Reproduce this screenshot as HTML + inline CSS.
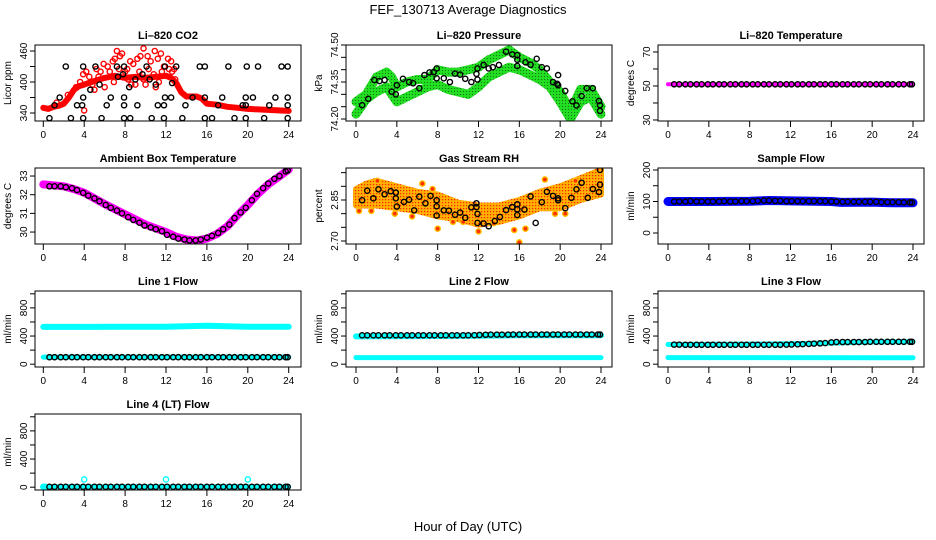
<!DOCTYPE html>
<html><head><meta charset="utf-8"><style>
body{margin:0;background:#fff}
svg{display:block;font-family:"Liberation Sans",sans-serif}
</style></head><body>
<svg id="c" width="936" height="540" xmlns="http://www.w3.org/2000/svg">
<text x="468" y="14" text-anchor="middle" font-size="13">FEF_130713  Average Diagnostics</text>
<text x="468" y="531" text-anchor="middle" font-size="13">Hour of Day (UTC)</text>
</svg>
<script>
// shared sample hours of black (average) points
const H=[0.6,1.1,1.7,2.2,2.8,3.3,3.9,4.4,5.0,5.5,6.1,6.6,7.2,7.7,8.3,8.8,9.4,9.9,10.5,11.0,11.6,12.1,12.7,13.2,13.8,14.3,14.9,15.4,16.0,16.5,17.1,17.6,18.2,18.7,19.3,19.8,20.4,20.9,21.5,22.0,22.6,23.1,23.7,23.9];
const xTicks=[0,4,8,12,16,20,24];
// CO2
const co2RedBand=[[0,350],[0.5,348],[1,352],[1.5,354],[2,358],[2.5,370],[3,385],[3.5,392],[4,395],[5,402],[6,408],[7,412],[8,408],[9,410],[10,408],[11,410],[12,412],[12.5,408],[13,398],[13.5,380],[14,372],[15,372],[15.5,368],[16,358],[17,356],[18,352],[19,350],[20,348],[21,347],[22,346],[23,345],[24,344]];
const co2RedPts=[[3.6,400],[3.9,415],[4.2,420],[4.5,410],[5.2,425],[5.6,420],[5.9,435],[6.3,430],[6.8,440],[7.0,445],[7.2,460],[7.5,450],[7.7,455],[8.2,425],[8.5,440],[8.8,435],[9.2,445],[9.5,450],[9.8,465],[10.2,450],[10.5,440],[10.9,460],[11.2,445],[11.5,455],[11.8,430],[12.2,445],[12.5,440],[12.8,425],[6.0,390],[9.0,395],[10.0,395],[11.0,390],[12.6,420],[4.0,345],[1.3,360],
[3.2,390],[4.8,395],[5.4,410],[6.5,420],[7.4,425],[8.0,420],[8.6,395],[9.4,420],[10.3,425],[10.8,415],[11.6,420],[12.3,425],[6.9,400],[8.3,405],[9.8,405],[11.3,400],[12.9,405],[2.4,375],[5.0,385]];
const co2BlackPts=[[0.6,330],[2.7,330],[3.9,330],[5.7,330],[7.9,330],[8.5,330],[10.6,330],[11.8,330],[13.6,330],[15.8,330],[16.5,330],[18.7,330],[19.8,330],[21.6,330],[23.9,330],
[1.1,355],[3.3,355],[3.8,355],[6.2,355],[7.9,355],[9.2,355],[11.2,355],[11.8,355],[13.9,355],[17.1,355],[19.5,355],[19.8,355],[22.1,355],[23.9,355],
[1.6,370],[3.9,370],[6.6,370],[7.9,370],[11.9,370],[12.5,370],[14.6,370],[15.8,370],[17.5,370],[19.8,370],[20.5,370],[22.7,370],[23.9,370],
[2.2,430],[3.9,430],[5.1,430],[7.2,430],[7.9,430],[10.1,430],[11.9,430],[13,430],[15.3,430],[15.8,430],[18.1,430],[19.9,430],[21,430],[23.3,430],[23.9,430],
[4.6,385],[5.5,395],[7.3,410],[7.8,415],[8.4,390],[9,405],[9.7,415],[10.4,405],[11,395],[12.6,398]];
// Pressure
const presUpper=[[0,74.27],[1,74.30],[2,74.37],[3,74.39],[3.5,74.37],[4,74.33],[5,74.35],[6,74.36],[7,74.36],[8,74.40],[9,74.39],[10,74.39],[11,74.40],[12,74.41],[13,74.44],[14,74.46],[15,74.48],[16,74.45],[17,74.43],[18,74.40],[19,74.35],[20,74.31],[21,74.23],[22,74.32],[23,74.32],[24,74.25]];
const presLower=[[0,74.22],[1,74.28],[2,74.31],[3,74.33],[4,74.27],[5,74.29],[6,74.31],[7,74.33],[8,74.34],[9,74.32],[10,74.31],[11,74.30],[12,74.33],[13,74.37],[14,74.39],[15,74.41],[16,74.40],[17,74.38],[18,74.36],[19,74.33],[20,74.27],[21,74.20],[22,74.27],[23,74.29],[24,74.22]];
const presBlack=[[0.6,74.256],[1.2,74.282],[1.8,74.358],[2.3,74.354],[2.8,74.358],[3.5,74.311],[3.9,74.30],[4.0,74.337],[4.6,74.363],[5.2,74.35],[5.6,74.345],[6.2,74.325],[6.7,74.378],[7.2,74.389],[7.6,74.39],[7.9,74.405],[7.9,74.365],[8.6,74.365],[9.2,74.35],[9.7,74.384],[10.2,74.38],[10.7,74.363],[11.3,74.35],[11.8,74.383],[11.9,74.405],[11.9,74.36],[12.5,74.419],[13,74.405],[13.4,74.41],[14,74.419],[14.7,74.473],[15.3,74.462],[15.8,74.459],[15.8,74.415],[15.8,74.44],[16.6,74.43],[17.1,74.42],[17.7,74.444],[18.2,74.41],[18.7,74.405],[19.3,74.35],[19.7,74.343],[19.8,74.378],[19.8,74.337],[20.5,74.314],[21.2,74.272],[21.6,74.255],[22.1,74.293],[22.6,74.325],[23.2,74.325],[23.8,74.273],[23.9,74.233],[23.9,74.256]];
// Li-820 temperature
const liTempMag=[[0,51],[24,51]];
const liTempBlack=[51,51,51,51,51,51,51,51,51,51,51,51,51,51,51,51,51,51,51,51,51,51,51,51,51,51,51,51,51,51,51,51,51,51,51,51,51,51,51,51,51,51,51,51];
// Ambient box temperature
const ambBlack=[32.45,32.45,32.45,32.4,32.35,32.25,32.1,31.95,31.8,31.65,31.45,31.3,31.15,31.0,30.8,30.65,30.5,30.35,30.25,30.15,30.05,29.85,29.75,29.65,29.6,29.55,29.55,29.6,29.7,29.8,29.95,30.15,30.4,30.75,31.05,31.3,31.7,32.05,32.35,32.6,32.85,33.0,33.25,33.3];
const ambMag=[[0,32.55],[1,32.5],[2,32.45],[3,32.3],[4,32.1],[6,31.5],[8,30.95],[10,30.4],[12,30.0],[13,29.75],[14,29.6],[15,29.55],[16,29.65],[17,29.9],[18,30.3],[19,30.9],[20,31.45],[21,32.05],[22,32.55],[23,32.95],[24,33.35]];
// Gas stream RH
const rhUpper=[[0,2.89],[1,2.91],[2,2.92],[4,2.90],[6,2.88],[8,2.87],[10,2.84],[12,2.83],[14,2.83],[16,2.85],[18,2.88],[20,2.90],[22,2.93],[24,2.96]];
const rhLower=[[0,2.83],[2,2.83],[4,2.82],[6,2.81],[8,2.79],[10,2.78],[12,2.76],[14,2.77],[16,2.79],[18,2.82],[20,2.82],[22,2.85],[24,2.87]];
const rhOutliers=[[0.3,2.81],[1.5,2.81],[2.1,2.92],[3.8,2.80],[5.5,2.79],[6.5,2.91],[7.5,2.89],[8.0,2.745],[9.5,2.77],[10.5,2.77],[12.0,2.735],[13.5,2.765],[15.5,2.74],[16.0,2.695],[16.6,2.745],[18.5,2.925],[19.5,2.80],[20.5,2.80],[21.5,2.92]];
const rhBlack=[[0.6,2.849],[1.1,2.884],[1.7,2.856],[2.2,2.889],[2.8,2.871],[3.4,2.882],[3.9,2.877],[3.9,2.856],[4,2.826],[4.7,2.843],[5.2,2.851],[5.7,2.812],[6.2,2.862],[6.8,2.838],[7.3,2.865],[7.9,2.849],[7.9,2.827],[7.9,2.793],[8.6,2.812],[9.1,2.811],[9.7,2.796],[10.2,2.804],[10.7,2.785],[11.3,2.823],[11.8,2.838],[11.8,2.824],[11.9,2.799],[11.9,2.766],[12.5,2.764],[13,2.754],[13.6,2.773],[14.1,2.788],[14.7,2.813],[15.3,2.824],[15.8,2.834],[15.8,2.816],[15.8,2.795],[16.5,2.815],[17.1,2.863],[17.6,2.766],[18.2,2.842],[18.7,2.88],[19.3,2.865],[19.8,2.856],[19.8,2.849],[20.5,2.82],[21.1,2.858],[21.6,2.889],[22.1,2.913],[22.7,2.858],[23.2,2.89],[23.8,2.879],[23.9,2.906],[23.9,2.96]];
// Sample flow
const sfBlue=[[0,100],[4,100],[8,101],[10,103],[12,102],[16,100],[17,97],[20,98],[22,96],[24,96]];
const sfBlack=[100,100,100,101,100,100,100,100,100,101,100,100,101,101,101,102,103,103,102,102,101,101,101,101,101,101,101,101,100,100,99,99,99,99,99,99,99,98,98,98,98,97,97,97];
// Line flows
const l1Cyan=[[0,530],[4,530],[8,532],[12,532],[14,538],[16,545],[18,540],[20,532],[24,532]];
const l1CyanLow=[[0,100],[24,100]];
const l1Black=[99,99,99,99,99,99,99,99,99,99,99,99,99,99,99,99,99,99,99,99,99,99,99,99,99,99,99,99,99,99,99,99,99,99,99,99,99,99,99,99,99,99,99,99];
const l2Cyan=[[0,395],[8,400],[12,405],[16,410],[20,410],[24,412]];
const l2CyanLow=[[0,94],[24,94]];
const l2Black=[410,410,410,410,410,410,410,410,410,410,410,410,410,410,410,410,410,410,410,410,412,415,418,420,420,420,420,422,422,422,422,422,422,422,422,422,422,422,422,422,422,422,422,422];
const l3Cyan=[[0,280],[8,285],[12,290],[16,300],[20,315],[24,320]];
const l3CyanLow=[[0,94],[24,92]];
const l3Black=[278,278,276,276,276,276,276,276,276,276,276,276,276,276,276,276,276,276,276,276,278,280,282,285,288,292,296,300,310,315,315,315,315,315,315,318,318,318,318,318,318,318,318,318];
const l4Cyan=[[0,5],[24,5]];
const l4CyanSpikes=[[4,110],[12,110],[20,110],[0.2,5],[0,5]];
const l4Black=[5,5,5,5,5,5,5,5,5,5,5,5,5,5,5,5,5,5,5,5,5,5,5,5,5,5,5,5,5,5,5,5,5,5,5,5,5,5,5,5,5,5,5,5];

const svg=document.getElementById('c');
const NS='http://www.w3.org/2000/svg';
const COLS=[{l:35,r:301,x0:43.3,x24:288.7},{l:346,r:612,x0:356,x24:601},{l:658,r:924,x0:668,x24:913}];
const ROWS=[{t:45,b:121},{t:168,b:244},{t:291,b:367},{t:414,b:490}];
function mk(tag,attrs,parent){const e=document.createElementNS(NS,tag);for(const k in attrs)e.setAttribute(k,attrs[k]);(parent||svg).appendChild(e);return e;}
function panel(name,col,row,title,ylab,lo,hi,ticks,labels){
  const C=COLS[col],R=ROWS[row];
  const g=mk('g',{});
  
  
  const p={C,R,lo,hi,g,
    X:h=>C.x0+(C.x24-C.x0)*h/24,
    Y:v=>R.b-(v-lo)/(hi-lo)*(R.b-R.t)};
  const tt=mk('text',{x:(C.l+C.r)/2,y:R.t-6,'text-anchor':'middle','font-size':11,'font-weight':'bold'},g);
  tt.textContent=title;
  
  
  const yl=mk('text',{transform:`translate(${C.l-24},${(R.t+R.b)/2}) rotate(-90)`,'text-anchor':'middle','font-size':10},g);
  yl.textContent=ylab;
  
  
  ticks.forEach(v=>{const y=p.Y(v);mk('line',{x1:C.l-5,x2:C.l,y1:y,y2:y,stroke:'#000','stroke-width':1},g);});
  labels.forEach(v=>{const t=mk('text',{transform:`translate(${C.l-8},${p.Y(v)}) rotate(-90)`,'text-anchor':'middle','font-size':10},g);t.textContent=String(v);
    
    });
  xTicks.forEach(h=>{const x=p.X(h);mk('line',{x1:x,x2:x,y1:R.b,y2:R.b+6,stroke:'#000','stroke-width':1},g);
    const t=mk('text',{x:x,y:R.b+17,'text-anchor':'middle','font-size':10},g);t.textContent=String(h);
    
    });
  p.data=mk('g',{},g);
  
  
  const clip=mk('clipPath',{id:'cl'+name},g);
  mk('rect',{x:C.l,y:R.t,width:C.r-C.l,height:R.b-R.t},clip);
  p.data.setAttribute('clip-path',`url(#cl${name})`);
  const box=mk('rect',{x:C.l,y:R.t,width:C.r-C.l,height:R.b-R.t,fill:'none',stroke:'#000','stroke-width':1},g);
  
  
  return p;
}
function band(p,pts,color,w){
  const d=pts.map((q,i)=>(i?'L':'M')+p.X(q[0]).toFixed(1)+','+p.Y(q[1]).toFixed(1)).join('');
  const e=mk('path',{d:d,fill:'none',stroke:color,'stroke-width':w,'stroke-linejoin':'round','stroke-linecap':'round'},p.data);
  
  
}
function pts(p,arr,color,r){
  arr.forEach(q=>{const e=mk('circle',{cx:p.X(q[0]),cy:p.Y(q[1]),r:r||2.6,fill:'none',stroke:color,'stroke-width':1.4},p.data);
    
    });
}
function hp(vals){return vals.map((v,i)=>[H[i],v]);}
function area(p,up,low,fill){
  const a=up.map(q=>p.X(q[0]).toFixed(1)+','+p.Y(q[1]).toFixed(1));
  const b=low.slice().reverse().map(q=>p.X(q[0]).toFixed(1)+','+p.Y(q[1]).toFixed(1));
  const e=mk('polygon',{points:a.concat(b).join(' '),fill:fill,stroke:fill,'stroke-width':6,'stroke-linejoin':'round'},p.data);
  
  
}
const defs=mk('defs',{});
const pat=mk('pattern',{id:'rhp',width:3,height:3,patternUnits:'userSpaceOnUse'},defs);
mk('rect',{width:3,height:3,fill:'#ffb000'},pat);
mk('rect',{x:1,y:1,width:1.2,height:1.2,fill:'#ff2000'},pat);
const gp=mk('pattern',{id:'gp',width:3,height:3,patternUnits:'userSpaceOnUse'},defs);
mk('rect',{width:3,height:3,fill:'#22dd22'},gp);
mk('rect',{x:1,y:1,width:1,height:1,fill:'#117711'},gp);

let p=panel('co2',0,0,'Li–820 CO2','Licor ppm',324.5,471.6,[340,370,400,430,460],[340,400,460]);
band(p,co2RedBand,'#ff0000',6);pts(p,co2RedPts,'#ff0000');pts(p,co2BlackPts,'#000');

p=panel('pressure',1,0,'Li–820 Pressure','kPa',74.192,74.50,[74.20,74.25,74.30,74.35,74.40,74.45,74.50],['74.20','74.35','74.50']);
band(p,presUpper,'url(#gp)',9);band(p,presLower,'url(#gp)',9);pts(p,presBlack,'#000');

p=panel('li-temperature',2,0,'Li–820 Temperature','degrees C',29.4,74.1,[30,40,50,60,70],[30,50,70]);
band(p,liTempMag,'#ff00ff',4);pts(p,hp(liTempBlack),'#000');

p=panel('ambient-temperature',0,1,'Ambient Box Temperature','degrees C',29.36,33.43,[30,31,32,33],[30,31,32,33]);
band(p,ambMag,'#ff00ff',8);pts(p,hp(ambBlack),'#000');

p=panel('gas-rh',1,1,'Gas Stream RH','percent',2.689,2.967,[2.70,2.75,2.80,2.85,2.90,2.95],['2.70','2.85']);
area(p,rhUpper,rhLower,'url(#rhp)');
rhOutliers.forEach(q=>{const e=mk('circle',{cx:p.X(q[0]),cy:p.Y(q[1]),r:2.6,fill:'#ff3000',stroke:'#ffc000','stroke-width':1.4},p.data);
  
  });
pts(p,rhBlack,'#000');

p=panel('sample-flow',2,1,'Sample Flow','ml/min',-34.9,206.3,[0,50,100,150,200],[0,100,200]);
band(p,sfBlue,'#0000ff',9);pts(p,hp(sfBlack),'#000');

const fT=[0,200,400,600,800,1000],fL=[0,400,800];
p=panel('line1-flow',0,2,'Line 1 Flow','ml/min',-40,1040,fT,fL);
band(p,l1Cyan,'#00ffff',6);band(p,l1CyanLow,'#00ffff',5);pts(p,hp(l1Black),'#000');

p=panel('line2-flow',1,2,'Line 2 Flow','ml/min',-40,1040,fT,fL);
band(p,l2Cyan,'#00ffff',6);band(p,l2CyanLow,'#00ffff',5);pts(p,hp(l2Black),'#000');

p=panel('line3-flow',2,2,'Line 3 Flow','ml/min',-40,1040,fT,fL);
band(p,l3Cyan,'#00ffff',5);band(p,l3CyanLow,'#00ffff',5);pts(p,hp(l3Black),'#000');

p=panel('line4-flow',0,3,'Line 4 (LT) Flow','ml/min',-40,1040,fT,fL);
band(p,l4Cyan,'#00ffff',5);pts(p,l4CyanSpikes,'#00ffff');pts(p,hp(l4Black),'#000');
</script>
</body></html>
